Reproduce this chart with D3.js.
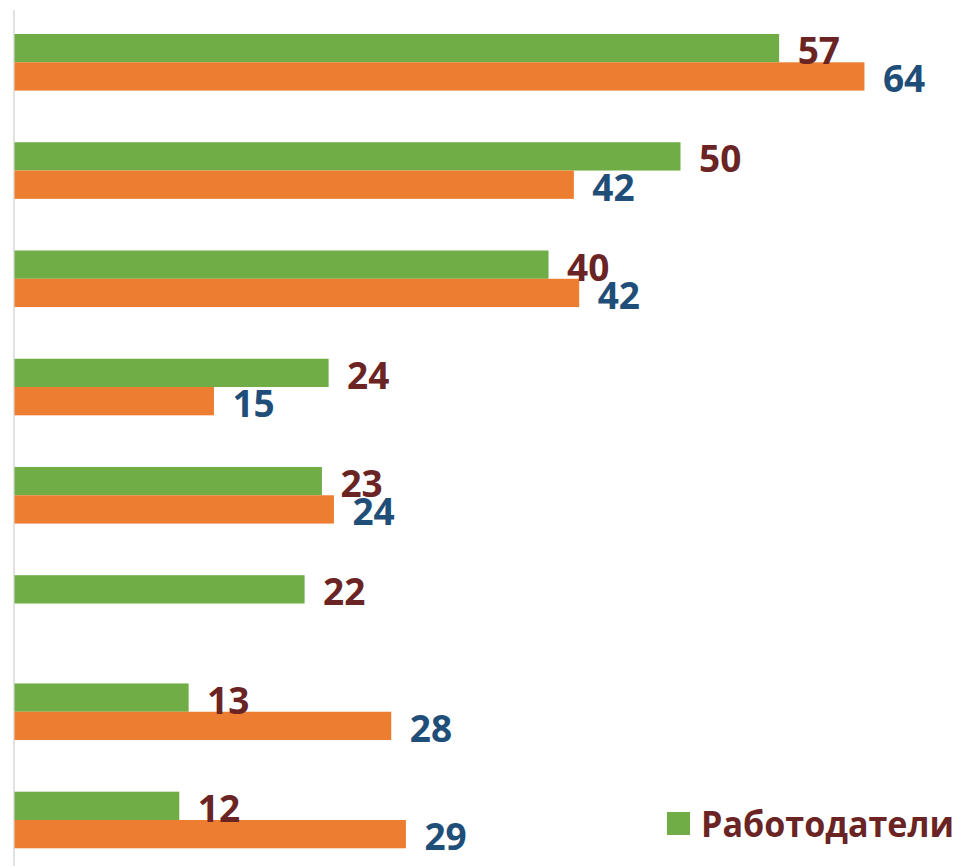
<!DOCTYPE html>
<html>
<head>
<meta charset="utf-8">
<script src="https://cdn.jsdelivr.net/npm/d3@7"></script>
<style>
  html, body { margin: 0; padding: 0; background: #fff; }
  svg { display: block; }
</style>
</head>
<body>
<svg id="chart" width="969" height="866"></svg>
<script>
const categories = ["1", "2", "3", "4", "5", "6", "7", "8"];
const seriesNames = ["Работодатели", "Работники"];
const employers = [57.4, 50.0, 40.1, 23.6, 23.1, 21.8, 13.1, 12.4];
const others = [63.8, 42.0, 42.4, 15.0, 24.0, null, 28.3, 29.4];
const legendLabels = ["Работодатели"];

const colors = ["#70AD47", "#ED7D31"];
const labelColors = ["#6B2424", "#1F4E79"];

const svg = d3.select("#chart");
const W = 969, H = 866;

const x = d3.scaleLinear().domain([0, 70]).range([14, 14 + 70 * 13.33]);

const step = 108.24;
const pIn = 0.477;
const y0 = 34 - step * pIn / 2;
const y = d3.scaleBand()
  .domain(categories)
  .range([y0, y0 + step * categories.length])
  .paddingInner(pIn)
  .paddingOuter(pIn / 2);

const ySub = d3.scaleBand().domain([0, 1]).range([0, y.bandwidth()]);

const rows = [];
categories.forEach((c, i) => {
  [employers[i], others[i]].forEach((v, s) => {
    if (v !== null && v !== undefined) rows.push({ c, s, v });
  });
});

// axis line
svg.append("line")
  .attr("x1", x(0)).attr("x2", x(0))
  .attr("y1", 10).attr("y2", H)
  .attr("stroke", "#d9d9d9").attr("stroke-width", 1.5);

const g = svg.append("g");

g.selectAll("rect.bar")
  .data(rows)
  .join("rect")
  .attr("class", "bar")
  .attr("x", x(0) + 0.5)
  .attr("y", d => y(d.c) + ySub(d.s))
  .attr("width", d => x(d.v) - x(0) - 0.5)
  .attr("height", ySub.bandwidth())
  .attr("fill", d => colors[d.s]);

const fmt = d3.format(".0f");
g.selectAll("text.lbl")
  .data(rows)
  .join("text")
  .attr("class", "lbl")
  .attr("x", d => x(d.v) + 18.5)
  .attr("y", d => y(d.c) + ySub(d.s) + ySub.bandwidth() / 2 + 16)
  .attr("fill", d => labelColors[d.s])
  .attr("font-family", "'Open Sans', sans-serif")
  .attr("font-weight", "bold")
  .attr("font-size", 37)
  .text(d => fmt(d.v));

// legend
const lg = svg.append("g");
lg.selectAll("rect")
  .data(legendLabels)
  .join("rect")
  .attr("x", 667).attr("y", 812)
  .attr("width", 23).attr("height", 23)
  .attr("fill", (d, i) => colors[i]);
lg.selectAll("text")
  .data(legendLabels)
  .join("text")
  .attr("x", 701).attr("y", 837)
  .attr("fill", labelColors[0])
  .attr("font-family", "'Open Sans', sans-serif")
  .attr("font-weight", "bold")
  .attr("font-size", 35)
  .attr("textLength", 253)
  .attr("lengthAdjust", "spacingAndGlyphs")
  .text(d => d);
</script>
</body>
</html>
